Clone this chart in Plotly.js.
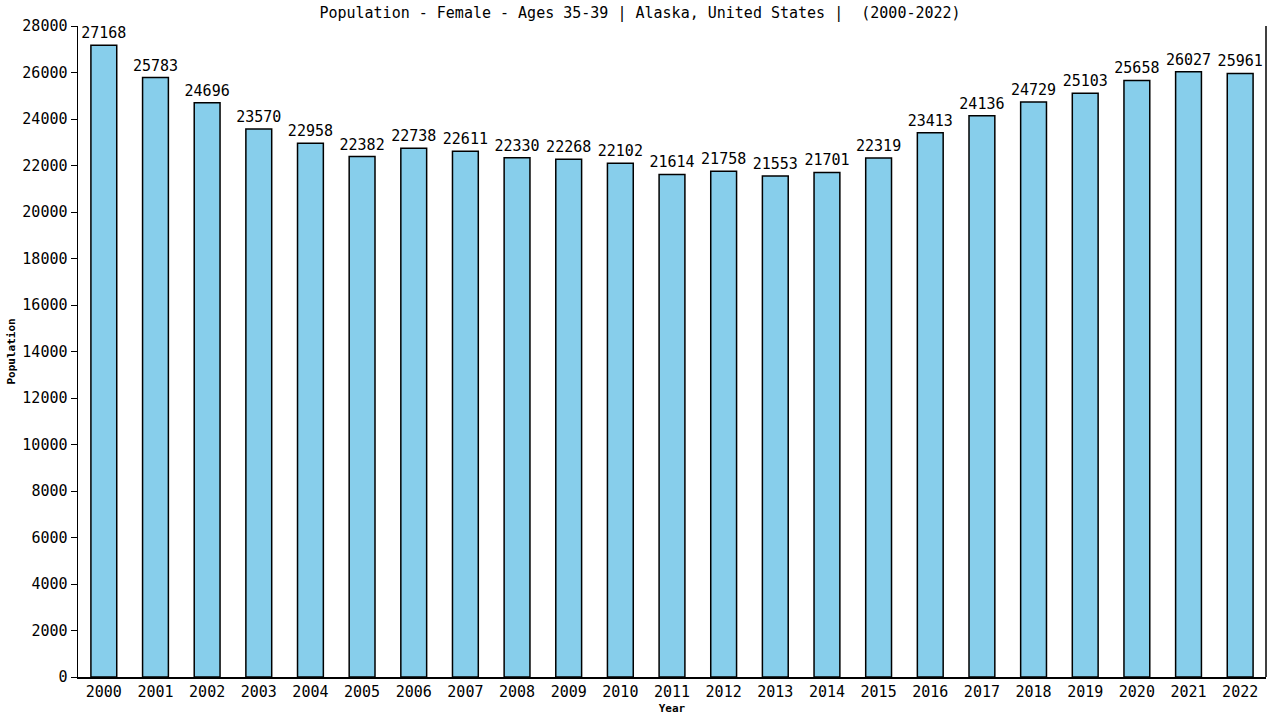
<!DOCTYPE html>
<html lang="en">
    <head>
        <meta charset="UTF-8" />
        <script src="https://cdn.plot.ly/plotly-3.0.1.min.js"></script>
        <title>Population - Female - Ages 35-39</title>
        <style>
            body { margin: 0; background: #fff; }
            #graph { width: 1280px; height: 720px; }
        </style>
    </head>
    <body>
        <div id="graph"></div>
    </body>
    <script>
        // Data
        const years = ["2000", "2001", "2002", "2003", "2004", "2005", "2006", "2007",
            "2008", "2009", "2010", "2011", "2012", "2013", "2014", "2015", "2016",
            "2017", "2018", "2019", "2020", "2021", "2022"];
        const population = [27168, 25783, 24696, 23570, 22958, 22382, 22738, 22611,
            22330, 22268, 22102, 21614, 21758, 21553, 21701, 22319, 23413, 24136,
            24729, 25103, 25658, 26027, 25961];
        const yTicks = [0, 2000, 4000, 6000, 8000, 10000, 12000, 14000, 16000,
            18000, 20000, 22000, 24000, 26000, 28000];

        const mono = "DejaVu Sans Mono, monospace";

        const data = [{
            type: "bar",
            x: years,
            y: population,
            text: population.map(String),
            textposition: "outside",
            constraintext: "none",
            cliponaxis: false,
            textfont: { family: mono, size: 15, color: "#000" },
            marker: { color: "#87CEEB", line: { color: "#000", width: 1.5 } },
            width: 0.5,
            hoverinfo: "x+y"
        }];

        const layout = {
            width: 1280,
            height: 720,
            margin: { l: 78, r: 14, t: 26, b: 43 },
            paper_bgcolor: "#fff",
            plot_bgcolor: "#fff",
            font: { family: mono, color: "#000" },
            showlegend: false,
            title: {
                text: "Population - Female - Ages 35-39 | Alaska, United States |  (2000-2022)",
                font: { family: mono, size: 15, color: "#000" },
                x: 0.5, xanchor: "center", y: 0.982, yanchor: "middle"
            },
            xaxis: {
                type: "category",
                range: [-0.5, 22.5],
                showgrid: false,
                showline: true, linecolor: "#000", linewidth: 1.5,
                mirror: false,
                ticks: "",
                tickfont: { family: mono, size: 15, color: "#000" },
                title: { text: "<b>Year</b>", font: { family: mono, size: 11 }, standoff: 5 }
            },
            yaxis: {
                range: [0, 28000],
                tickvals: yTicks,
                ticktext: yTicks.map(String),
                showgrid: false,
                zeroline: false,
                showline: true, linecolor: "#000", linewidth: 1.5,
                ticks: "outside", ticklen: 6, tickcolor: "#000",
                tickfont: { family: mono, size: 15, color: "#000" },
                title: { text: "<b>Population</b>", font: { family: mono, size: 11 }, standoff: 4 }
            },
            shapes: [{
                type: "line", xref: "paper", yref: "paper",
                x0: 1, x1: 1, y0: 0, y1: 1,
                line: { color: "#000", width: 1.5 }
            }]
        };

        Plotly.newPlot("graph", data, layout, { displayModeBar: false, staticPlot: true });
    </script>
</html>
